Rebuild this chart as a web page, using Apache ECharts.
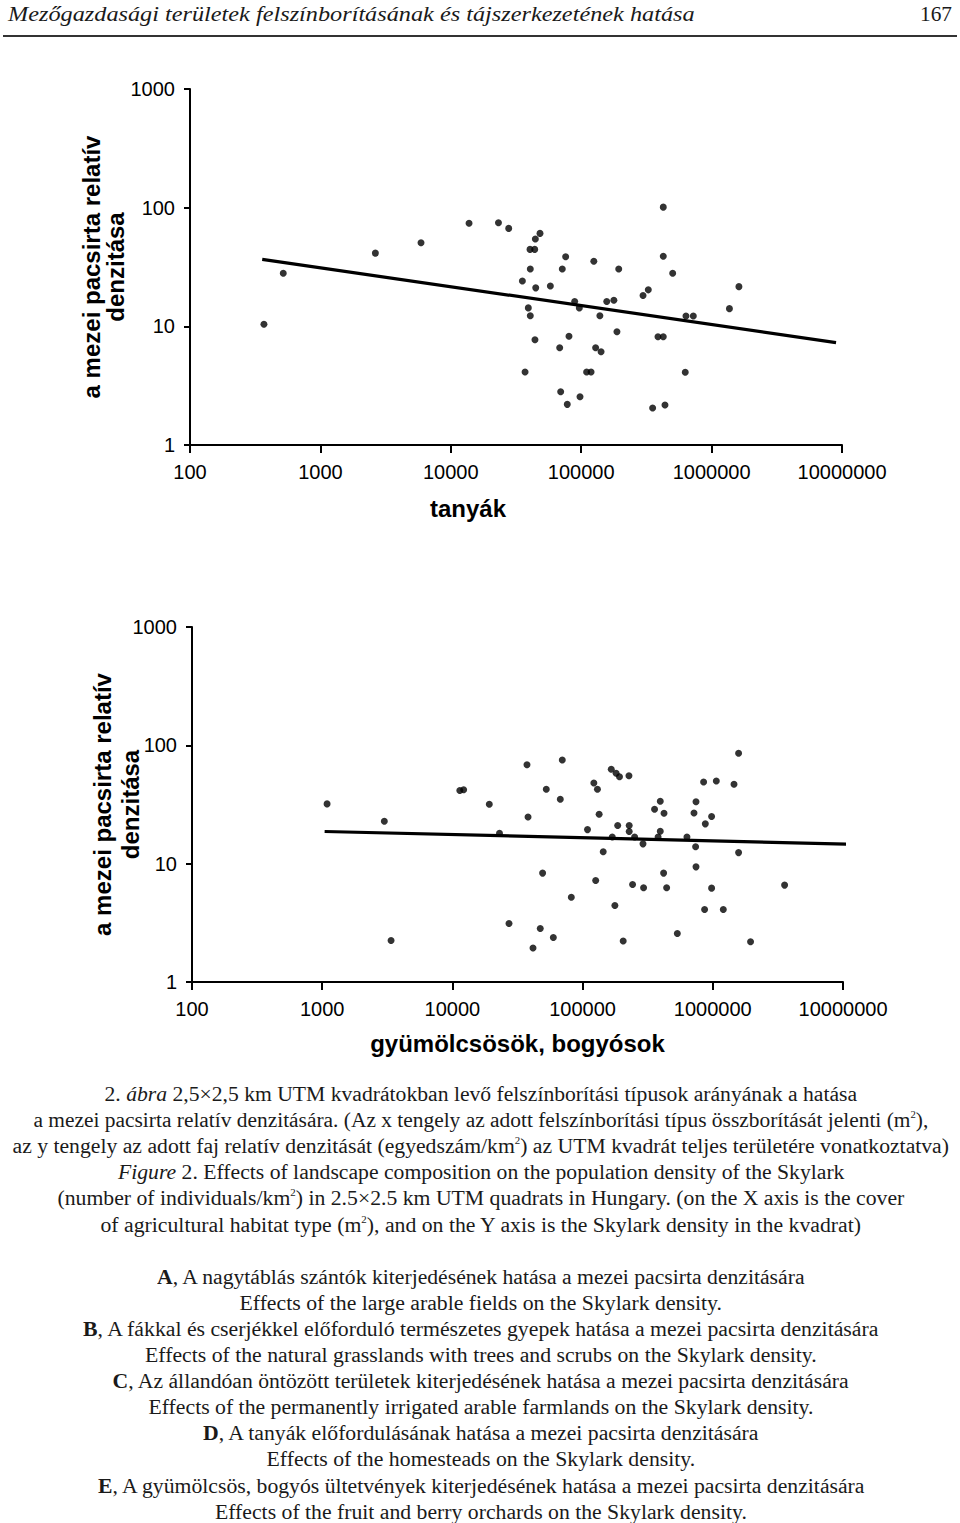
<!DOCTYPE html>
<html>
<head>
<meta charset="utf-8">
<script src="https://cdn.jsdelivr.net/npm/echarts@6/dist/echarts.min.js"></script>
<style>
  html, body { margin: 0; padding: 0; background: #fff; }
  #page { position: relative; width: 960px; height: 1523px; overflow: hidden; background: #fff; }
  #chart { position: absolute; left: 0; top: 0; width: 960px; height: 1523px; }
  .ln { position: absolute; white-space: nowrap; font-family: "Liberation Serif", "DejaVu Serif", serif; color: #1a1a1a; transform-origin: 50% 50%; }
  .ln sup { font-size: 0.5em; vertical-align: 0.9em; line-height: 0; }
  #rule { position: absolute; left: 3px; top: 35px; width: 954px; height: 2px; background: #333; }
</style>
</head>
<body>
<div id="page">
  <div id="chart"></div>
  <div id="rule"></div>
</div>
<script>
// ---------- DATA ----------
// Chart 1: tanyák (x: cover in m², y: relative density)
const tanyakX = [369, 519, 2640, 5910, 13800, 23200, 27800, 48300, 44500, 44000, 40500, 76000, 125000,
  40700, 71600, 194000, 426000, 426000, 503000, 35400, 44800, 58000, 1620000, 298000, 327000,
  89100, 96700, 157000, 178000, 39300, 40700, 139000, 1370000, 636000, 724000, 188000, 80600,
  44200, 388000, 426000, 68400, 129000, 142000, 37100, 119000, 110000, 628000, 69600, 78200,
  97900, 353000, 439000];
const tanyakY = [10.4, 28.0, 41.4, 50.6, 73.8, 74.6, 66.9, 60.7, 54.4, 44.5, 44.5, 38.6, 35.3,
  30.4, 30.4, 30.4, 101, 38.9, 28.0, 24.1, 21.1, 21.9, 21.6, 18.2, 20.3,
  16.2, 14.3, 16.2, 16.6, 14.3, 12.3, 12.3, 14.1, 12.2, 12.2, 9.0, 8.24,
  7.71, 8.17, 8.17, 6.60, 6.60, 6.11, 4.12, 4.12, 4.12, 4.10, 2.81, 2.20,
  2.55, 2.05, 2.17];
const tanyakTrendX = [358, 9000000];
const tanyakTrendY = [36.7, 7.3];

// Chart 2: gyümölcsösök, bogyósok
const gyumX = [1090, 3000, 3380, 12200, 11400, 19200, 23000, 37400, 69800, 52600, 67400, 38100,
  122000, 130000, 166000, 181000, 192000, 227000, 134000, 109000, 186000, 228000, 228000,
  169000, 251000, 291000, 395000, 357000, 422000, 395000, 380000, 743000, 717000, 979000,
  876000, 633000, 738000, 1578000, 850000, 1064000, 1455000, 1578000, 144000, 49300, 126000,
  242000, 294000, 419000, 442000, 743000, 979000, 3560000, 81900, 177000, 865000, 1204000,
  27200, 47300, 59600, 41600, 205000, 534000, 1950000];
const gyumY = [32.0, 22.8, 2.24, 42.2, 41.5, 31.8, 18.1, 68.6, 75.2, 42.5, 35.0, 24.8,
  48.1, 42.5, 62.7, 58.0, 54.3, 55.4, 26.2, 19.4, 21.0, 21.0, 18.7,
  16.8, 16.8, 14.7, 33.7, 28.8, 26.7, 18.8, 16.8, 33.4, 26.8, 25.0,
  21.7, 16.8, 13.9, 12.4, 49.0, 50.0, 46.9, 85.6, 12.6, 8.32, 7.20,
  6.66, 6.25, 8.32, 6.25, 9.4, 6.21, 6.59, 5.21, 4.43, 4.10, 4.10,
  3.12, 2.83, 2.38, 1.94, 2.22, 2.57, 2.19];
const gyumTrendX = [1044, 11850000];
const gyumTrendY = [18.7, 14.6];

// Axis ranges and texts
const xRange = [100, 10000000];
const yRange = [1, 1000];
const yAxisTitle = 'a mezei pacsirta relatív\ndenzitása';
const xTitle1 = 'tanyák';
const xTitle2 = 'gyümölcsösök, bogyósok';

const headerText = 'Mezőgazdasági területek felszínborításának és tájszerkezetének hatása';
const pageNumber = '167';
const captionLines = [
  '2. <i>ábra</i> 2,5×2,5 km UTM kvadrátokban levő felszínborítási típusok arányának a hatása',
  'a mezei pacsirta relatív denzitására. (Az x tengely az adott felszínborítási típus összborítását jelenti (m<sup>2</sup>),',
  'az y tengely az adott faj relatív denzitását (egyedszám/km<sup>2</sup>) az UTM kvadrát teljes területére vonatkoztatva)',
  '<i>Figure</i> 2. Effects of landscape composition on the population density of the Skylark',
  '(number of individuals/km<sup>2</sup>) in 2.5×2.5 km UTM quadrats in Hungary. (on the X axis is the cover',
  'of agricultural habitat type (m<sup>2</sup>), and on the Y axis is the Skylark density in the kvadrat)',
  '<b>A</b>, A nagytáblás szántók kiterjedésének hatása a mezei pacsirta denzitására',
  'Effects of the large arable fields on the Skylark density.',
  '<b>B</b>, A fákkal és cserjékkel előforduló természetes gyepek hatása a mezei pacsirta denzitására',
  'Effects of the natural grasslands with trees and scrubs on the Skylark density.',
  '<b>C</b>, Az állandóan öntözött területek kiterjedésének hatása a mezei pacsirta denzitására',
  'Effects of the permanently irrigated arable farmlands on the Skylark density.',
  '<b>D</b>, A tanyák előfordulásának hatása a mezei pacsirta denzitására',
  'Effects of the homesteads on the Skylark density.',
  '<b>E</b>, A gyümölcsös, bogyós ültetvények kiterjedésének hatása a mezei pacsirta denzitására',
  'Effects of the fruit and berry orchards on the Skylark density.'
];

// ---------- LAYOUT (positions only) ----------
const captionRow = [0, 1, 2, 3, 4, 5, 7, 8, 9, 10, 11, 12, 13, 14, 15, 16];
const captionWidth = [753, 895, 937, 726, 847, 760, 648, 482, 795, 672, 736, 665, 555, 429, 766, 532];
const captionTop0 = 1094, captionStep = 26.1, captionCx = 480.5;

const page = document.getElementById('page');
function placeLine(html, cx, cy, targetW, fontSize, italic, align) {
  const d = document.createElement('div');
  d.className = 'ln';
  d.style.fontSize = fontSize + 'px';
  d.style.lineHeight = '26px';
  if (italic) d.style.fontStyle = 'italic';
  d.innerHTML = html;
  page.appendChild(d);
  const w = d.offsetWidth;
  const s = targetW / w;
  d.style.top = (cy - 13) + 'px';
  if (align === 'left') {
    d.style.left = cx + 'px';
    d.style.transformOrigin = '0 50%';
  } else if (align === 'right') {
    d.style.left = (cx - w) + 'px';
    d.style.transformOrigin = '100% 50%';
  } else {
    d.style.left = (cx - w / 2) + 'px';
  }
  d.style.transform = 'scaleX(' + s + ')';
}
placeLine(headerText, 8, 14, 687, 22, true, 'left');
placeLine(pageNumber, 952, 14, 32, 22, false, 'right');
captionLines.forEach((t, i) => {
  placeLine(t, captionCx, captionTop0 + captionStep * captionRow[i], captionWidth[i], 20, false, 'center');
});

// ---------- CHART ----------
const pairs = (xs, ys) => xs.map((x, i) => [x, ys[i]]);
const fmt = v => String(Math.round(v));
const black = '#000';

function xAxisCfg(gridIndex, name, nameGap, padding) {
  return {
    type: 'log', logBase: 10, gridIndex, min: xRange[0], max: xRange[1],
    name, nameLocation: 'middle', nameGap, nameMoveOverlap: false,
    nameTextStyle: { fontFamily: 'Liberation Sans', fontWeight: 'bold', fontSize: 24, color: black, padding },
    axisLine: { show: true, lineStyle: { color: black, width: 2 } },
    axisTick: { show: true, length: 8, lineStyle: { color: black, width: 2 } },
    axisLabel: { margin: 17, fontFamily: 'Liberation Sans', fontSize: 20, color: black, formatter: fmt, showMinLabel: true, showMaxLabel: true },
    splitLine: { show: false },
    minorTick: { show: false }
  };
}
function yAxisCfg(gridIndex, nameGap, lineHeight) {
  return {
    type: 'log', logBase: 10, gridIndex, min: yRange[0], max: yRange[1],
    name: yAxisTitle, nameLocation: 'middle', nameGap, nameRotate: 90, nameMoveOverlap: false,
    nameTextStyle: { fontFamily: 'Liberation Sans', fontWeight: 'bold', fontSize: 24, color: black, lineHeight, align: 'center' },
    axisLine: { show: true, lineStyle: { color: black, width: 2 } },
    axisTick: { show: true, length: 6, lineStyle: { color: black, width: 2 } },
    axisLabel: { margin: 15, fontFamily: 'Liberation Sans', fontSize: 20, color: black, formatter: fmt, showMinLabel: true, showMaxLabel: true },
    splitLine: { show: false }
  };
}

const chart = echarts.init(document.getElementById('chart'), null, { renderer: 'svg', width: 960, height: 1523 });
chart.setOption({
  animation: false,
  backgroundColor: 'transparent',
  grid: [
    { left: 190, top: 89, width: 652, height: 356, outerBoundsMode: 'none', containLabel: false },
    { left: 192, top: 627, width: 651, height: 355, outerBoundsMode: 'none', containLabel: false }
  ],
  xAxis: [
    xAxisCfg(0, xTitle1, 51, [0, 96, 0, 0]),
    xAxisCfg(1, xTitle2, 49, 0)
  ],
  yAxis: [
    yAxisCfg(0, 63, 24),
    yAxisCfg(1, 48, 28)
  ],
  series: [
    { type: 'scatter', xAxisIndex: 0, yAxisIndex: 0, data: pairs(tanyakX, tanyakY),
      symbol: 'circle', symbolSize: 7, itemStyle: { color: black } },
    { type: 'line', xAxisIndex: 0, yAxisIndex: 0, data: pairs(tanyakTrendX, tanyakTrendY),
      showSymbol: false, symbol: 'none', clip: false, lineStyle: { color: black, width: 3.2 } },
    { type: 'scatter', xAxisIndex: 1, yAxisIndex: 1, data: pairs(gyumX, gyumY),
      symbol: 'circle', symbolSize: 7, itemStyle: { color: black } },
    { type: 'line', xAxisIndex: 1, yAxisIndex: 1, data: pairs(gyumTrendX, gyumTrendY),
      showSymbol: false, symbol: 'none', clip: false, lineStyle: { color: black, width: 3.2 } }
  ]
});
</script>
</body>
</html>
